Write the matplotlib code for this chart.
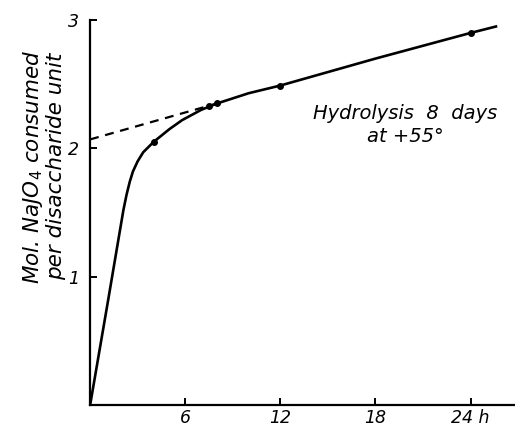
import matplotlib
matplotlib.use("Agg")
import matplotlib.pyplot as plt

# curve (hours, mol NaIO4 per disaccharide unit)
curve_t = [0, 1.14, 2.1, 2.3, 2.5, 2.7, 3.0, 3.35, 4, 5, 5.8, 7, 8, 10, 12, 18, 24, 25.6]
curve_y = [0, 0.82, 1.52, 1.64, 1.74, 1.82, 1.90, 1.97, 2.05, 2.15, 2.22, 2.30, 2.35, 2.43, 2.49, 2.70, 2.90, 2.95]

# measured points
pts_t = [4, 7.5, 8, 12, 24]
pts_y = [2.05, 2.33, 2.35, 2.49, 2.90]

# extrapolated dashed line back to t = 0
dash_t = [0, 8]
dash_y = [2.07, 2.35]

xticks = [6, 12, 18, 24]
xlabels = ["6", "12", "18", "24 h"]
yticks = [1, 2, 3]

fig = plt.figure(figsize=(5.15, 4.32), dpi=100)
ax = fig.add_axes([0.175, 0.0625, 0.825, 0.891])

ax.plot(curve_t, curve_y, color="black", lw=1.9)
ax.plot(dash_t, dash_y, color="black", lw=1.6, ls=(0, (4, 3)))
ax.plot(pts_t, pts_y, "o", color="black", ms=4)

ax.set_xlim(0, 26.8)
ax.set_ylim(0, 3)
ax.spines["top"].set_visible(False)
ax.spines["right"].set_visible(False)
ax.spines["left"].set_linewidth(1.6)
ax.spines["bottom"].set_linewidth(1.6)

font = dict(family="DejaVu Sans", style="italic")
ax.set_xticks(xticks)
ax.set_xticklabels(xlabels, fontsize=12.5, **font)
ax.set_yticks(yticks)
ax.set_yticklabels([str(v) for v in yticks], fontsize=12.5, **font)
ax.tick_params(direction="in", length=5, width=1.4)
ax.tick_params(axis="x", pad=3)
ax.tick_params(axis="y", pad=8)

ax.text(-0.11, 0.62, "Mol. NaJO$_4$ consumed\nper disaccharide unit",
        transform=ax.transAxes, rotation=90, ha="center", va="center",
        fontsize=15.5, linespacing=1.1, **font)

ax.text(19.9, 2.18, "Hydrolysis  8  days\nat +55°", ha="center", va="center",
        fontsize=14, linespacing=1.25, **font)

fig.savefig("out.png", dpi=100)
